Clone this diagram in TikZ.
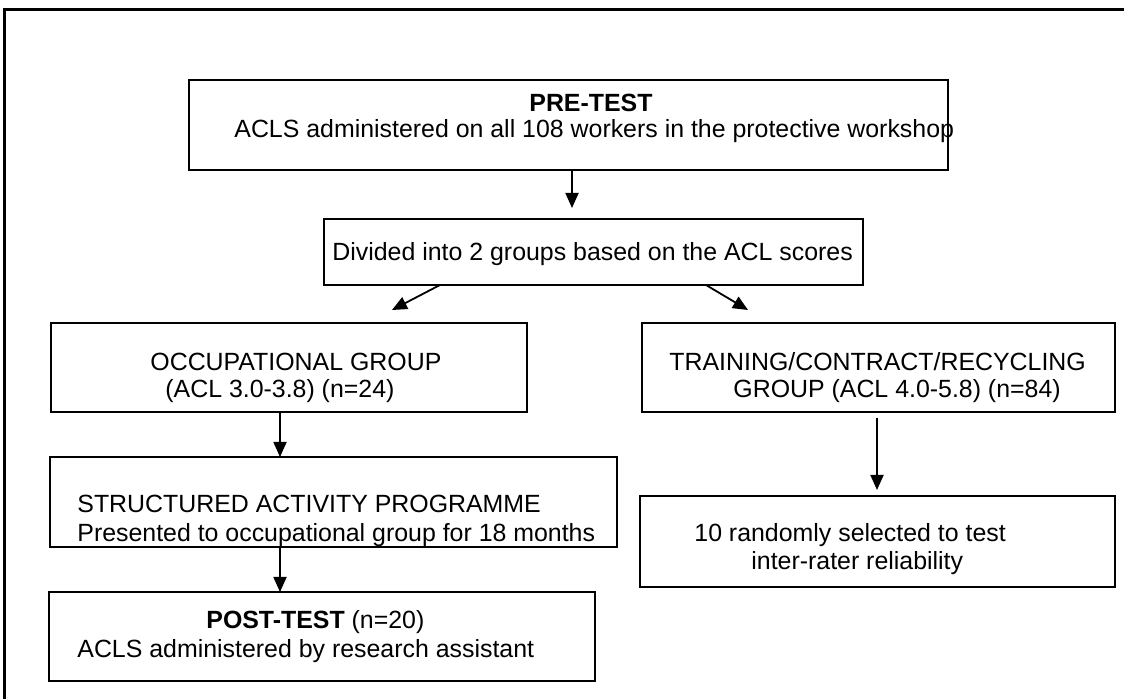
\documentclass[tikz,border=0pt]{standalone}
\usepackage{fontspec}
\setmainfont{Liberation Sans}
\usetikzlibrary{arrows.meta}

\begin{document}
\begin{tikzpicture}[x=0.5pt,y=-0.5pt]
    \tikzstyle{every node} = [font=\fontsize{12.45pt}{14pt}\selectfont]
    \tikzstyle{block} = [draw, rectangle, line width=1.1pt, inner sep=0pt, outer sep=0pt]
    \tikzstyle{txt} = [anchor=base west, inner sep=0pt]
    \tikzstyle{arr} = [-{Stealth[inset=0pt,length=7.5pt,width=6.5pt]}, line width=0.9pt]
    \useasboundingbox (0,0) rectangle (1124,699);
    % outer frame
    \draw[line width=1.5pt] (4,699) -- (4,9.5) -- (1124,9.5);

    % place nodes
    \node[block, minimum width=379.5pt, minimum height=45pt] (pre) at (568.5,125) {};
    \node[block, minimum width=269.5pt, minimum height=33pt] (div) at (593.5,252) {};
    \node[block, minimum width=238pt, minimum height=44.5pt] (occ) at (289,367.5) {};
    \node[block, minimum width=236.5pt, minimum height=44.5pt] (train) at (878.5,367.5) {};
    \node[block, minimum width=283.5pt, minimum height=45pt] (struct) at (333.5,502) {};
    \node[block, minimum width=273pt, minimum height=44.5pt] (post) at (322,636.5) {};
    \node[block, minimum width=237.5pt, minimum height=45.5pt] (rand) at (877.5,541.5) {};

    % texts
    \node[txt] (preTitle) at (529,112) {\textbf{PRE-TEST}};
    \node[txt] (preLine) at (234,138) {ACLS administered on all 108 workers in the protective workshop};
    \node[txt] (divLine) at (332,261) {Divided into 2 groups based on the ACL scores};
    \node[txt] (occTitle) at (150,371) {OCCUPATIONAL GROUP};
    \node[txt] (occLine) at (165,398) {(ACL 3.0-3.8) (n=24)};
    \node[txt] (trainTitle) at (669,371) {TRAINING/CONTRACT/RECYCLING};
    \node[txt] (trainLine) at (733,398) {GROUP (ACL 4.0-5.8) (n=84)};
    \node[txt] (structTitle) at (77,513) {STRUCTURED ACTIVITY PROGRAMME};
    \node[txt] (structLine) at (77,542) {Presented to occupational group for 18 months};
    \node[txt] (postTitle) at (206,628) {\textbf{POST-TEST} (n=20)};
    \node[txt] (postLine) at (77,657) {ACLS administered by research assistant};
    \node[txt] (randTitle) at (694,542) {10 randomly selected to test};
    \node[txt] (randLine) at (751,570) {inter-rater reliability};

    % Connections
    \coordinate (colM) at (572,0);
    \coordinate (colL) at (280,0);
    \coordinate (colR) at (877,0);
    \coordinate (occTip) at (392,310);
    \coordinate (trainTip) at (748,310);
    \draw[arr, shorten >=5.5pt] (pre.south -| colM) -- (div.north -| colM);
    \draw[arr] ([xshift=58pt]div.south west) -- (occTip);
    \draw[arr] ([xshift=-78.5pt]div.south east) -- (trainTip);
    \draw[arr] (occ.south -| colL) -- (struct.north -| colL);
    \draw[arr] (struct.south -| colL) -- (post.north -| colL);
    \draw[arr, shorten <=3pt, shorten >=3pt] (train.south -| colR) -- (rand.north -| colR);

  \end{tikzpicture}
\end{document}
